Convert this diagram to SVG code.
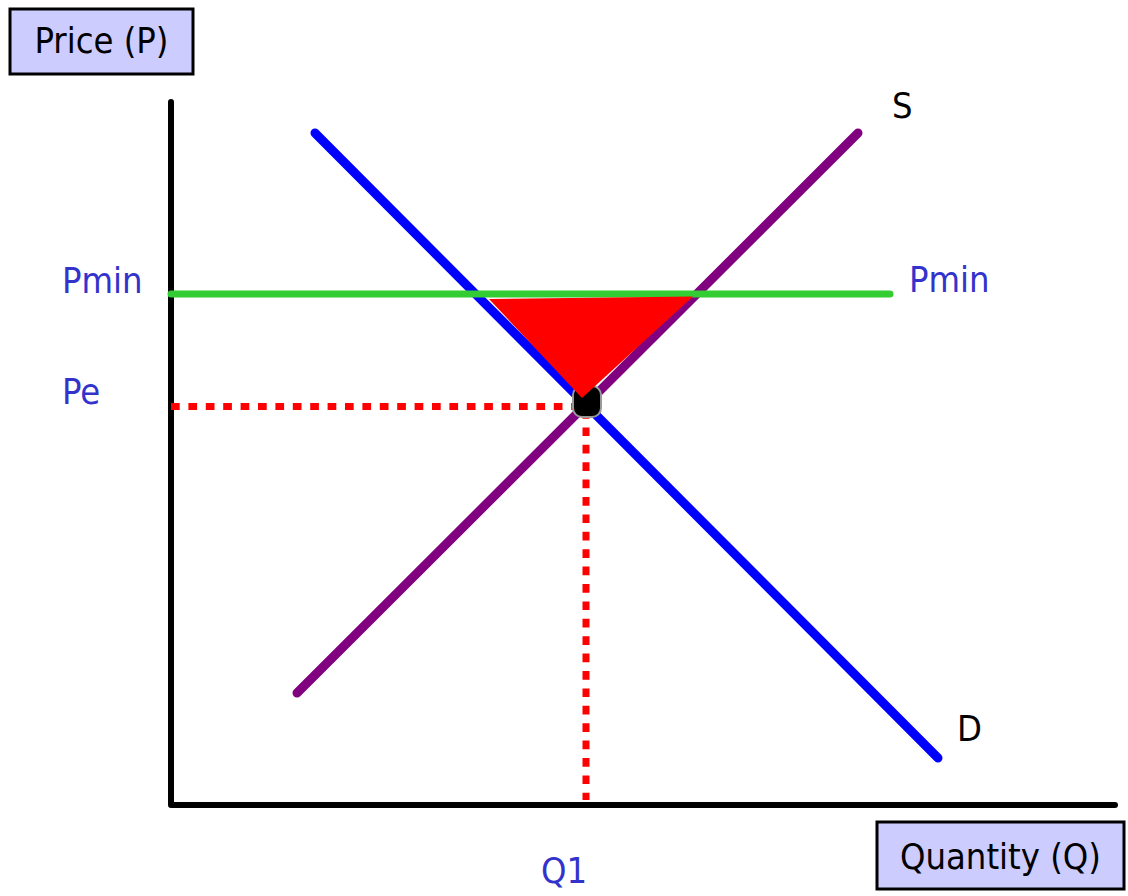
<svg xmlns="http://www.w3.org/2000/svg" width="1128" height="896" viewBox="0 0 1128 896">
<style>
.lbl{font-family:"DejaVu Sans Condensed","DejaVu Sans","Liberation Sans",sans-serif;font-size:36px;}
.blue{fill:#3333cc;}
.blk{fill:#000;}
.box{fill:#ccccff;stroke:#000;stroke-width:3;}
.dot{stroke:#ff0000;stroke-width:7;stroke-dasharray:8.7 8.7;fill:none;}
</style>
<rect width="1128" height="896" fill="#fff"/>
<g id="axes">
<path d="M171,102 L171,805 L1115,805" fill="none" stroke="#000" stroke-width="6" stroke-linecap="round" stroke-linejoin="round"/>
</g>
<g id="connectors">
<line class="dot" x1="171" y1="406.5" x2="580" y2="406.5"/>
<line class="dot" x1="586" y1="410" x2="586" y2="800"/>
<line x1="315" y1="133" x2="938" y2="758" stroke="#0000ff" stroke-width="9" stroke-linecap="round"/>
<line x1="297" y1="693" x2="858" y2="133" stroke="#800080" stroke-width="9" stroke-linecap="round"/>
<line x1="171" y1="294" x2="890" y2="294" stroke="#33cc33" stroke-width="7" stroke-linecap="round"/>
</g>
<g id="equilibrium">
<rect x="573" y="386" width="28" height="31" rx="9" fill="#000" stroke="#999" stroke-width="2"/>
</g>
<g id="deadweight">
<polygon points="489,299 693,296.5 582,398" fill="#ff0000"/>
</g>
<g id="price-box">
<rect class="box" x="10" y="9" width="183" height="65"/>
<text class="lbl blk" x="101.5" y="53" text-anchor="middle">Price (P)</text>
</g>
<g id="quantity-box">
<rect class="box" x="877" y="822" width="247" height="67"/>
<text class="lbl blk" x="1000.5" y="869" text-anchor="middle">Quantity (Q)</text>
</g>
<g id="labels">
<text class="lbl blue" x="62" y="293">Pmin</text>
<text class="lbl blue" x="62" y="404">Pe</text>
<text class="lbl blue" x="909" y="292">Pmin</text>
<text class="lbl blue" x="541" y="883">Q1</text>
<text class="lbl blk" x="892" y="118">S</text>
<text class="lbl blk" x="957" y="741">D</text>
</g>
</svg>
